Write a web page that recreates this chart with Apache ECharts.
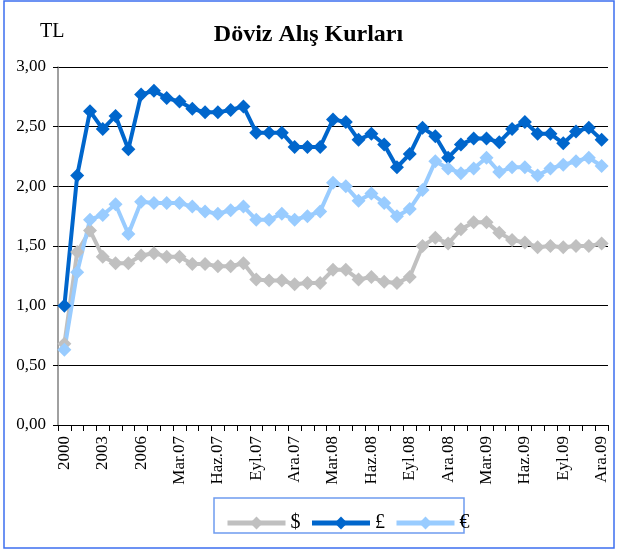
<!DOCTYPE html>
<html>
<head>
<meta charset="utf-8">
<script src="https://cdn.jsdelivr.net/npm/echarts@6/dist/echarts.min.js"></script>
<style>
html,body{margin:0;padding:0;background:#fff;}
#c{width:617px;height:552px;}
</style>
</head>
<body>
<div id="c"></div>
<script>
var categories = ['2000','2001','2002','2003','2004','2005','2006',
  'Oca.07','Şub.07','Mar.07','Nis.07','May.07','Haz.07','Tem.07','Ağu.07','Eyl.07','Eki.07','Kas.07','Ara.07',
  'Oca.08','Şub.08','Mar.08','Nis.08','May.08','Haz.08','Tem.08','Ağu.08','Eyl.08','Eki.08','Kas.08','Ara.08',
  'Oca.09','Şub.09','Mar.09','Nis.09','May.09','Haz.09','Tem.09','Ağu.09','Eyl.09','Eki.09','Kas.09','Ara.09'];

var usd = [0.68,1.45,1.63,1.41,1.355,1.355,1.42,1.44,1.41,1.41,1.35,1.35,1.33,1.33,1.355,1.22,1.21,1.21,1.18,1.19,1.19,
  1.30,1.30,1.22,1.24,1.20,1.19,1.24,1.50,1.57,1.52,1.64,1.70,1.70,1.61,1.55,1.53,1.49,1.50,1.49,1.50,1.50,1.52];

var gbp = [1.00,2.09,2.63,2.48,2.59,2.31,2.77,2.80,2.74,2.71,2.65,2.62,2.62,2.64,2.67,2.45,2.45,2.45,2.33,2.33,2.33,
  2.56,2.54,2.39,2.44,2.35,2.16,2.27,2.49,2.42,2.24,2.35,2.40,2.40,2.37,2.48,2.54,2.44,2.44,2.36,2.46,2.49,2.39];

var eur = [0.63,1.28,1.72,1.76,1.85,1.60,1.87,1.86,1.86,1.86,1.83,1.79,1.77,1.80,1.83,1.72,1.72,1.77,1.72,1.75,1.79,
  2.03,2.00,1.88,1.94,1.86,1.75,1.81,1.97,2.21,2.15,2.11,2.15,2.24,2.12,2.16,2.16,2.09,2.15,2.18,2.21,2.24,2.17];

var yTicks = [0, 0.5, 1, 1.5, 2, 2.5, 3];

var serif = '"Liberation Serif", "DejaVu Serif", serif';
var chart = echarts.init(document.getElementById('c'), null, {renderer:'canvas'});

function mk(name, data, color){
  return {
    name: name, type: 'line', data: data,
    symbol: 'diamond', symbolSize: 14, showAllSymbol: true,
    lineStyle: {color: color, width: 4},
    itemStyle: {color: color},
    animation: false
  };
}

chart.setOption({
  backgroundColor: '#fff',
  animation: false,
  title: {
    text: 'Döviz Alış Kurları', left: 'center', top: 18,
    textStyle: {fontFamily: serif, fontWeight: 'bold', fontSize: 24, color: '#000'}
  },
  graphic: [
    {type: 'rect', shape: {x: 4, y: 1, width: 610, height: 547},
     style: {fill: 'none', stroke: '#3d6ff0', lineWidth: 1.5}, silent: true},
    {type: 'text', left: 40, top: 22,
     style: {text: 'TL', font: '20px ' + serif, fill: '#000'}},
    {type: 'rect', shape: {x: 214, y: 498, width: 250, height: 35},
     style: {fill: 'none', stroke: '#6f9cf0', lineWidth: 1.5}, silent: true}
  ],
  legend: {
    top: 508, left: 220,
    itemWidth: 58, itemHeight: 16, itemGap: 9,
    lineStyle: {width: 5},
    textStyle: {fontFamily: serif, fontSize: 20, color: '#000'},
    data: ['$','£','€']
  },
  grid: {left: 58, right: 9, top: 67, bottom: 127, containLabel: false},
  xAxis: {
    type: 'category', data: categories, boundaryGap: true,
    axisLine: {lineStyle: {color: '#000', width: 1}},
    axisTick: {show: true, interval: 0, length: 6, lineStyle: {color: '#000'}},
    axisLabel: {interval: 2, rotate: 90, fontFamily: serif, fontSize: 17, color: '#000', margin: 11}
  },
  yAxis: {
    type: 'value', min: 0, max: 3, interval: 0.5,
    axisLine: {show: true, lineStyle: {color: '#808080', width: 1.5}},
    axisTick: {show: true, length: 5, lineStyle: {color: '#000'}},
    splitLine: {show: true, lineStyle: {color: '#000', width: 1}},
    axisLabel: {fontFamily: serif, fontSize: 17, color: '#000', margin: 12,
      formatter: function(v){ return v.toFixed(2).replace('.', ','); }}
  },
  series: [mk('$', usd, '#c0c0c0'), mk('£', gbp, '#0066cc'), mk('€', eur, '#99ccff')]
});
</script>
</body>
</html>
